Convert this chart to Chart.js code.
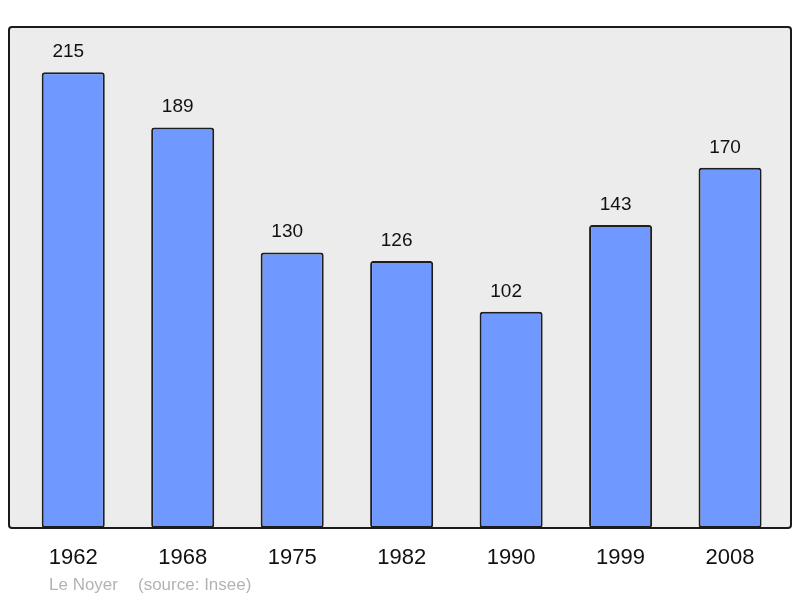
<!DOCTYPE html>
<html>
<head>
<meta charset="utf-8">
<title>Le Noyer - population</title>
<script src="https://cdn.jsdelivr.net/npm/chart.js@4.4.0/dist/chart.umd.min.js"></script>
<style>
  html, body { margin: 0; padding: 0; background: #ffffff; }
  #wrap { width: 800px; height: 598px; }
</style>
</head>
<body>
<div id="wrap"><canvas id="popChart" width="800" height="598"></canvas></div>
<script>
// Data
const years = ['1962', '1968', '1975', '1982', '1990', '1999', '2008'];
const population = [215, 189, 130, 126, 102, 143, 170];
const footerName = 'Le Noyer';
const footerSource = '(source: Insee)';

// Grey plot frame behind and around the bars
const framePlugin = {
    id: 'frame',
    beforeDatasetsDraw(chart) {
        const ctx = chart.ctx;
        ctx.save();
        ctx.fillStyle = '#ececec';
        ctx.beginPath();
        ctx.roundRect(9, 27, 782, 501, 3);
        ctx.fill();
        ctx.restore();
    },
    afterDatasetsDraw(chart) {
        const ctx = chart.ctx;
        ctx.save();
        ctx.strokeStyle = '#1a1a1a';
        ctx.lineWidth = 2;
        ctx.beginPath();
        ctx.roundRect(9, 27, 782, 501, 3);
        ctx.stroke();

        // value labels above each bar
        const meta = chart.getDatasetMeta(0);
        ctx.fillStyle = '#111111';
        ctx.font = '19px "Liberation Sans", Arial, sans-serif';
        ctx.textAlign = 'center';
        ctx.textBaseline = 'alphabetic';
        meta.data.forEach((bar, i) => {
            ctx.fillText(String(population[i]), bar.x - 5, bar.y - 15);
        });

        // footer
        ctx.fillStyle = '#b3b3b3';
        ctx.font = '17px "Liberation Sans", Arial, sans-serif';
        ctx.textAlign = 'left';
        ctx.fillText(footerName, 49, 590);
        ctx.fillText(footerSource, 138, 590);
        ctx.restore();
    }
};

const ctx = document.getElementById('popChart').getContext('2d');
new Chart(ctx, {
    type: 'bar',
    data: {
        labels: years,
        datasets: [{
            data: population,
            backgroundColor: '#7099ff',
            borderColor: '#1e1e1e',
            borderWidth: 2,
            borderRadius: 3,
            borderSkipped: false,
            barPercentage: 0.576,
            categoryPercentage: 1.0
        }]
    },
    options: {
        responsive: false,
        animation: false,
        devicePixelRatio: 1,
        layout: {
            padding: { left: 18.5, right: 15.2, top: 26.7, bottom: 0 }
        },
        plugins: {
            legend: { display: false },
            tooltip: { enabled: false }
        },
        scales: {
            x: {
                grid: { display: false, drawTicks: false },
                border: { display: false },
                ticks: {
                    color: '#111111',
                    padding: 17,
                    font: { family: '"Liberation Sans", Arial, sans-serif', size: 22 }
                },
                afterFit(scale) { scale.height = 70; }
            },
            y: {
                display: false,
                min: 0,
                max: 236.5
            }
        }
    },
    plugins: [framePlugin]
});
</script>
</body>
</html>
